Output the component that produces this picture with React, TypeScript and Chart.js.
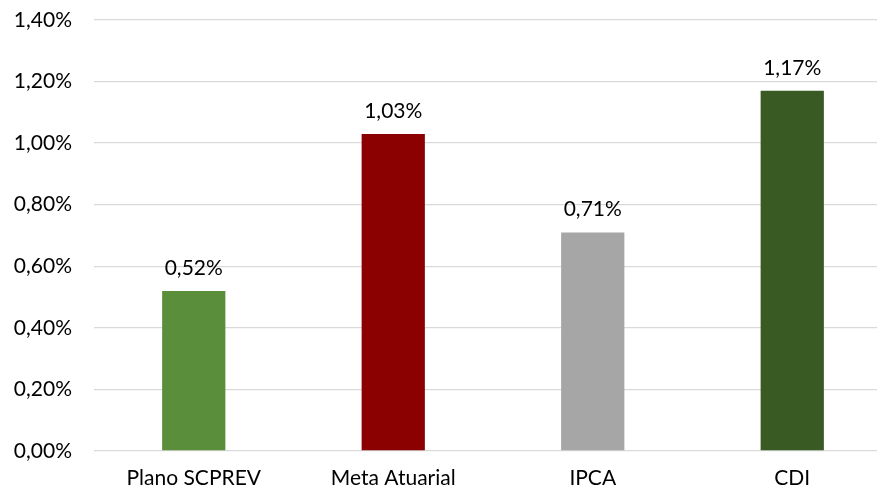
import React, { useEffect, useRef } from "react";
import { Chart, registerables } from "chart.js";

Chart.register(...registerables);

const categories = ["Plano SCPREV", "Meta Atuarial", "IPCA", "CDI"];
const values = [0.52, 1.03, 0.71, 1.17];
const barColors = ["#5B8E3A", "#8B0000", "#A6A6A6", "#3A5A24"];
const yMin = 0;
const yMax = 1.4;
const yStep = 0.2;

const FONT = "Lato, 'Open Sans', sans-serif";

const fmt = (v: number) => v.toFixed(2).replace(".", ",") + "%";

const labelPlugin = {
  id: "barLabels",
  afterDatasetsDraw(chart: any) {
    const ctx = chart.ctx;
    const meta = chart.getDatasetMeta(0);
    ctx.save();
    ctx.font = `21px ${FONT}`;
    ctx.fillStyle = "#000";
    ctx.textAlign = "center";
    ctx.textBaseline = "middle";
    meta.data.forEach((el: any, i: number) => {
      ctx.fillText(fmt(values[i]), el.x, el.y - 23);
    });
    ctx.restore();
  },
};

export default function App() {
  const ref = useRef<HTMLCanvasElement>(null);
  useEffect(() => {
    if (!ref.current) return;
    const chart = new Chart(ref.current, {
      type: "bar",
      data: {
        labels: categories,
        datasets: [
          {
            data: values,
            backgroundColor: barColors,
            barPercentage: 0.317,
            categoryPercentage: 1,
          },
        ],
      },
      options: {
        animation: false,
        responsive: false,
        maintainAspectRatio: false,
        layout: { padding: { top: 20, left: 0, right: 0, bottom: 0 } },
        plugins: { legend: { display: false }, tooltip: { enabled: false } },
        scales: {
          x: {
            grid: { display: false },
            border: { display: false },
            afterFit(scale: any) {
              scale.height = 45;
              scale.paddingLeft = 0;
              scale.paddingRight = 0;
            },
            ticks: {
              color: "#000",
              font: { family: FONT, size: 21 },
              padding: 7,
            },
          },
          y: {
            min: yMin,
            max: yMax,
            afterFit(scale: any) {
              scale.width = 94;
              scale.paddingTop = 0;
              scale.paddingBottom = 0;
            },
            ticks: {
              stepSize: yStep,
              color: "#000",
              font: { family: FONT, size: 21 },
              padding: 22,
              callback: (v: any) => fmt(Number(v)),
            },
            grid: { color: "#D9D9D9", lineWidth: 1.3, drawTicks: false },
            border: { display: false },
          },
        },
      },
      plugins: [labelPlugin],
    });
    return () => chart.destroy();
  }, []);
  return (
    <div style={{ position: "absolute", left: 0, top: 0, width: 892, height: 496 }}>
      <canvas ref={ref} width={892} height={496} style={{ width: 892, height: 496 }} />
    </div>
  );
}
